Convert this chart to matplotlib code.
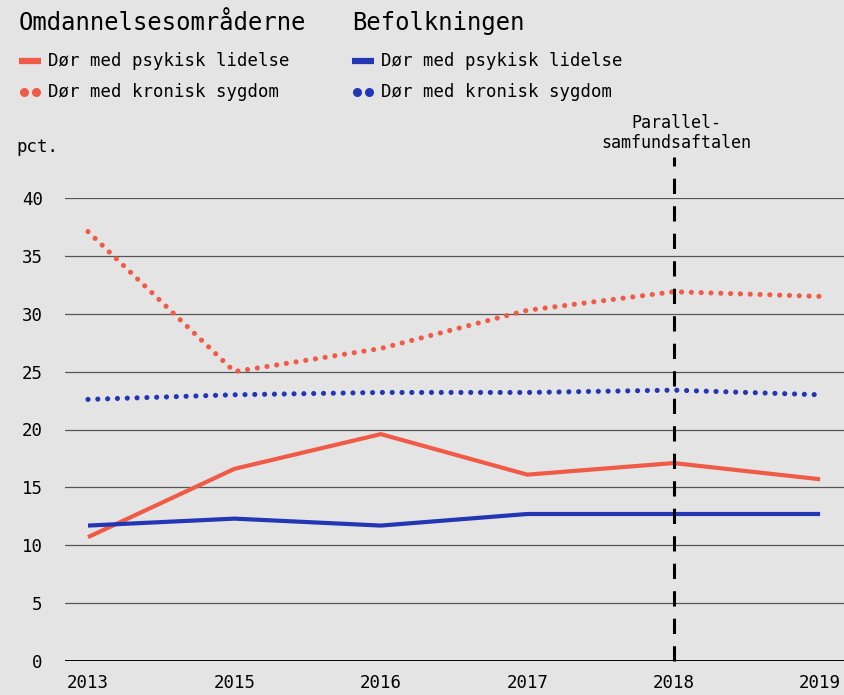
import matplotlib.pyplot as plt
from matplotlib.lines import Line2D

plt.rcParams['font.family'] = ['DejaVu Sans Mono']

years = ['2013', '2015', '2016', '2017', '2018', '2019']
omr_psykisk = [10.7, 16.6, 19.6, 16.1, 17.1, 15.7]
omr_kronisk = [37.1, 25.0, 27.0, 30.3, 31.9, 31.5]
bef_psykisk = [11.7, 12.3, 11.7, 12.7, 12.7, 12.7]
bef_kronisk = [22.6, 23.0, 23.2, 23.2, 23.4, 23.0]
yticks = [0, 5, 10, 15, 20, 25, 30, 35, 40]

RED = '#ef5b47'
BLUE = '#2336b4'
BG = '#e4e4e4'
W, H = 845, 695

fig = plt.figure(figsize=(W / 100, H / 100), dpi=100, facecolor=BG)
ax = fig.add_axes([65 / W, (H - 661) / H, 780 / W, (661 - 198) / H], facecolor=BG)

x = list(range(len(years)))
dots = (0, (0.01, 1.9))
ax.plot(x, omr_psykisk, color=RED, lw=3, solid_capstyle='butt', zorder=3)
ax.plot(x, bef_psykisk, color=BLUE, lw=3, solid_capstyle='butt', zorder=3)
ax.plot(x, omr_kronisk, color=RED, lw=3.7, linestyle=dots, dash_capstyle='round', zorder=3)
ax.plot(x, bef_kronisk, color=BLUE, lw=3.7, linestyle=dots, dash_capstyle='round', zorder=3)

# grid
for v in yticks:
    ax.axhline(v, color='black' if v == 0 else '#555555', lw=1.4 if v == 0 else 0.9, zorder=1)

# Parallelsamfundsaftalen marker
ax.plot([4, 4], [0, 43.5], color='black', lw=2.2, linestyle=(0, (5, 4)), clip_on=False, zorder=4)
fig.text(676 / W, 1 - 133 / H, 'Parallel-\nsamfundsaftalen', ha='center', va='center',
         fontsize=12, linespacing=1.1)

ax.set_xlim(-0.157, 5.17)
ax.set_ylim(0, 40)
ax.set_xticks(x)
ax.set_xticklabels(years, fontsize=12.5)
ax.set_yticks(yticks)
ax.set_yticklabels([str(v) for v in yticks], fontsize=12.5)
ax.tick_params(length=0)
ax.tick_params(axis='y', pad=16)
ax.tick_params(axis='x', pad=9)
for s in ax.spines.values():
    s.set_visible(False)

fig.text(16 / W, 1 - 147 / H, 'pct.', ha='left', va='center', fontsize=12.5)

# legend
fig.text(19 / W, 1 - 23 / H, 'Omdannelsesområderne', ha='left', va='center', fontsize=17.2)
fig.text(352 / W, 1 - 23 / H, 'Befolkningen', ha='left', va='center', fontsize=17.2)
entries = [
    (19, RED, 'Dør med psykisk lidelse', 'solid', 61),
    (19, RED, 'Dør med kronisk sygdom', 'dots', 92),
    (352, BLUE, 'Dør med psykisk lidelse', 'solid', 61),
    (352, BLUE, 'Dør med kronisk sygdom', 'dots', 92),
]
for x0, col, label, kind, yy in entries:
    yf = 1 - yy / H
    if kind == 'solid':
        fig.add_artist(Line2D([x0 / W, (x0 + 22) / W], [yf, yf], color=col, lw=4.5,
                              solid_capstyle='butt'))
    else:
        fig.add_artist(Line2D([(x0 + 5) / W, (x0 + 17) / W], [yf, yf], color=col, lw=0,
                              marker='o', markersize=6.5, markeredgewidth=0))
    fig.text((x0 + 29) / W, yf, label, ha='left', va='center', fontsize=12.5)

fig.savefig('out.png', dpi=100, facecolor=BG)
